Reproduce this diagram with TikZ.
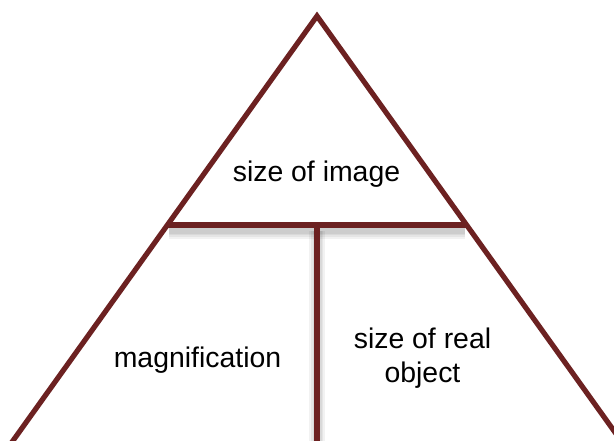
\documentclass[tikz,border=0pt]{standalone}
\usepackage{fontspec}
\setmainfont{Liberation Sans}
\definecolor{frameRed}{RGB}{108,33,33}
\begin{document}
\begin{tikzpicture}[x=1pt,y=-1pt,
  edge/.style={draw=frameRed,line width=5.2pt,line join=miter},
  shade/.style={draw=black,line width=#1,opacity=0.05},
  lbl/.style={font=\fontsize{28.4}{34}\selectfont,anchor=base,align=center,inner sep=0pt}]
\useasboundingbox (0,0) rectangle (614,441);
\clip (0,0) rectangle (614,441);
\fill[white] (0,0) rectangle (614,441);
\coordinate (apex) at (317,16);
\coordinate (bl) at (-8,470);
\coordinate (br) at (642,470);
\coordinate (hl) at (167.7,225);
\coordinate (hr) at (466.3,225);
\coordinate (mid) at (317,225);
\coordinate (bot) at (317,460);
% soft shadows
\foreach \w in {16pt,12pt,9pt,6pt}{
  \draw[shade=\w] ([xshift=1pt,yshift=-6pt]hl) -- ([xshift=-1pt,yshift=-6pt]hr);
  \draw[shade=\w] ([yshift=-6pt]mid) -- ([yshift=-6pt]bot);
}
\draw[edge] (bl) -- (apex) -- (br);
\draw[edge] (hl) -- (hr);
\draw[edge] (mid) -- (bot);
\node[lbl] (img) at (316.5,182) {size of image};
\node[lbl] (mag) at (197.5,367) {magnification};
\node[lbl] (obj) at (422.5,382) {size of real\\object};
\end{tikzpicture}
\end{document}
